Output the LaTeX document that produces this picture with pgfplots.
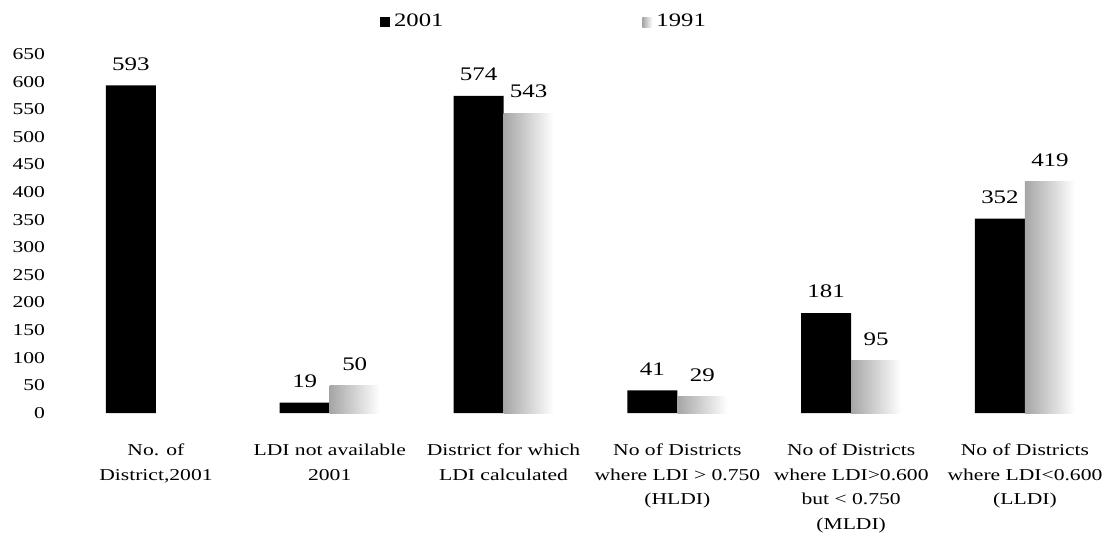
\documentclass[border=0pt]{standalone}
\usepackage{pgfplots}
\pgfplotsset{compat=1.18}
\usepackage{fontspec}
\setmainfont{Liberation Serif}
\newfontfamily\wideserif[FakeStretch=1.3]{Liberation Serif}

\begin{document}
\begin{tikzpicture}
\begin{axis}[
  scale only axis,
  width=529.5pt, height=179.5pt,
  xmin=-0.598, xmax=5.495,
  ymin=0, ymax=650,
  clip=false,
  axis line style={draw=none},
  tick style={draw=none},
  major tick length=0pt,
  ytick={0,50,...,650},
  xtick={0,1,2,3,4,5},
  xticklabels={
    {No. of\\District,2001},
    {LDI not available\\2001},
    {District for which\\LDI calculated},
    {No of Districts\\where LDI > 0.750\\(HLDI)},
    {No of Districts\\where LDI>0.600\\but < 0.750\\(MLDI)},
    {No of Districts\\where LDI<0.600\\(LLDI)}},
  xticklabel style={align=center, font=\wideserif\fontsize{8.3}{12.25}\selectfont, yshift=-12pt},
  yticklabel style={font=\wideserif\fontsize{8.3}{10}\selectfont},
  /pgf/number format/assume math mode=true,
  ybar=0pt,
  bar width=25pt,
  nodes near coords,
  every node near coord/.append style={font=\wideserif\fontsize{9.6}{11}\selectfont, text=black, yshift=4pt},
  legend columns=2,
  legend style={at={(0.4655,1.089)}, anchor=center, draw=none, fill=none,
    font=\wideserif\fontsize{9.5}{10}\selectfont,
    /tikz/every even column/.append style={column sep=97.5pt}},
]
% 2001
\addplot[draw=none, fill=black, bar shift=-12.5pt,
  legend image code/.code={\fill[black] (0pt,-2.5pt) rectangle (5pt,2.5pt);}]
  coordinates {(0,593) (1,19) (2,574) (3,41) (4,181) (5,352)};
\addlegendentry{2001}
% 1991: one plot per bar so that each bar gets its own fade
\pgfplotsset{bar1991/.style={draw=none, left color=gray!70, right color=white, bar shift=12.5pt}}
\addplot[bar1991, legend image code/.code={\path (0pt,-2.5pt) rectangle (5pt,2.5pt);}]
  coordinates {(1,50)};
\addlegendentry{1991}
\addplot[bar1991, forget plot] coordinates {(2,543)};
\addplot[bar1991, forget plot] coordinates {(3,29)};
\addplot[bar1991, forget plot] coordinates {(4,95)};
\addplot[bar1991, forget plot] coordinates {(5,419)};
\end{axis}
% page margins around the plot area
\path (current axis.south west) ++(-26pt,-61pt);
\path (current axis.north east) ++(0pt,27pt);
\end{tikzpicture}
\end{document}
